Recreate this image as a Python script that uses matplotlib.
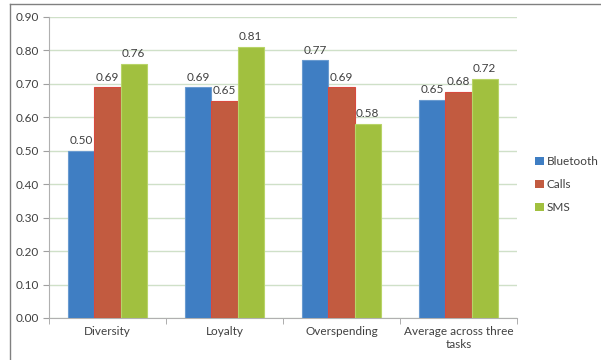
import numpy as np
import matplotlib.pyplot as plt
from matplotlib.lines import Line2D
from matplotlib.patches import Patch

# Data
categories = ['Diversity', 'Loyalty', 'Overspending', 'Average across three\ntasks']
bluetooth = [0.50, 0.69, 0.77, 0.653]
calls = [0.69, 0.65, 0.69, 0.676]
sms = [0.76, 0.81, 0.58, 0.716]
series_names = ['Bluetooth', 'Calls', 'SMS']

colors = ['#3f7ec3', '#c25b40', '#a1c03f']
edges = ['#6a9bd0', '#d84a3e', '#b8d468']
text_color = '#404040'

plt.rcParams['font.family'] = ['Lato', 'DejaVu Sans']

fig = plt.figure(figsize=(6.01, 3.6), dpi=100)
ax = fig.add_axes([0.0815, 0.1167, 0.7785, 0.8361])

x = np.arange(len(categories))
width = 0.225
for i, vals in enumerate([bluetooth, calls, sms]):
    pos = x + (i - 1) * width
    bars = ax.bar(pos, vals, width, color=colors[i], edgecolor=edges[i],
                  linewidth=0.8, zorder=3, label=series_names[i])
    for b, v in zip(bars, vals):
        ax.text(b.get_x() + b.get_width() / 2, v + 0.014, '%.2f' % v,
                ha='center', va='bottom', fontsize=8.5, color=text_color)

ax.set_xlim(-0.5, len(categories) - 0.5)
ax.set_ylim(0, 0.9)
ax.set_yticks(np.arange(0, 0.91, 0.1))
ax.set_yticklabels(['%.2f' % t for t in np.arange(0, 0.91, 0.1)])
ax.set_xticks(x)
ax.set_xticklabels(categories)
ax.set_xticks(np.arange(-0.5, len(categories), 1), minor=True)
ax.tick_params(axis='x', which='major', length=0, pad=6, labelsize=8.5, labelcolor=text_color)
ax.tick_params(axis='x', which='minor', length=4, color='#a0a0a0', direction='out')
ax.tick_params(axis='y', length=4, color='#a0a0a0', labelsize=8.5, labelcolor=text_color, pad=3)

ax.yaxis.grid(True, color='#cfe0c8', linewidth=1, zorder=0)
for s in ['top', 'right']:
    ax.spines[s].set_visible(False)
ax.spines['left'].set_color('#b0b0b0')
ax.spines['bottom'].set_color('#b0b0b0')

handles = [Patch(facecolor=colors[i], edgecolor='none') for i in range(3)]
fig.legend(handles, series_names, loc='center left', bbox_to_anchor=(0.873, 0.487),
           frameon=False, fontsize=8.5, handlelength=0.7, handleheight=0.7,
           handletextpad=0.25, labelspacing=1.0, labelcolor=text_color)

# outer chart frame
fig.add_artist(Line2D([10 / 601, 1], [1 - 4 / 360, 1 - 4 / 360], color='#808080', linewidth=1))
fig.add_artist(Line2D([10 / 601, 10 / 601], [0, 1 - 4 / 360], color='#808080', linewidth=1))

fig.savefig('out.png', dpi=100)
